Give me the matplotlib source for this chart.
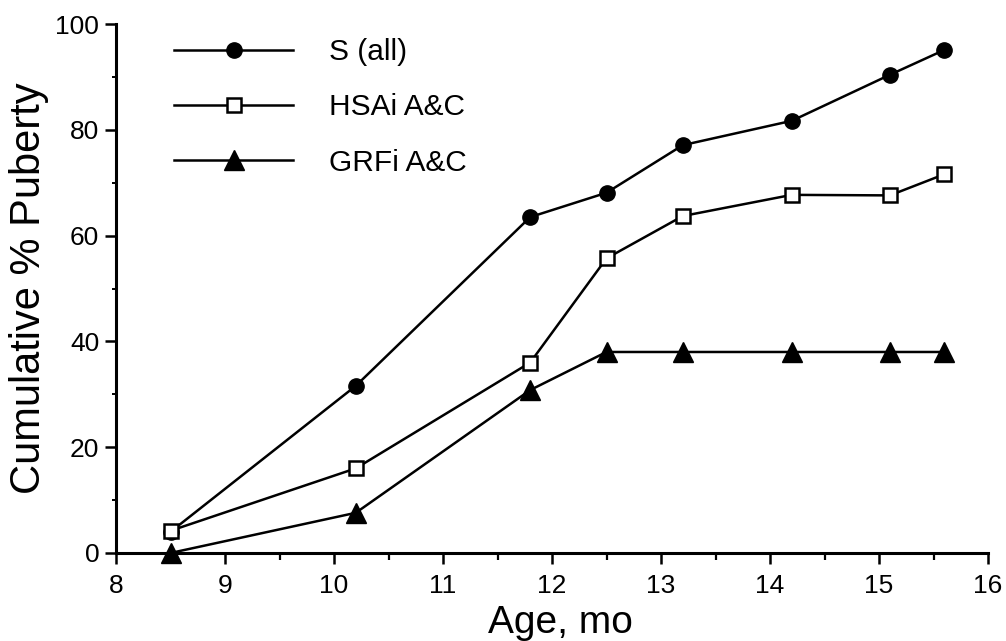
import matplotlib
matplotlib.use("Agg")
import matplotlib.pyplot as plt
from matplotlib.ticker import MultipleLocator

plt.rcParams['font.family'] = ['Liberation Sans', 'DejaVu Sans']

# ages (months) at which puberty was recorded
age = [8.5, 10.2, 11.8, 12.5, 13.2, 14.2, 15.1, 15.6]
s_all = [4.0, 31.6, 63.5, 68.1, 77.1, 81.7, 90.4, 95.1]
hsai = [4.2, 16.0, 36.0, 55.7, 63.7, 67.7, 67.6, 71.6]
grfi = [0.0, 7.6, 30.8, 38.0, 38.0, 38.0, 38.0, 38.0]

fig = plt.figure(figsize=(10.06, 6.41), dpi=100)
ax = fig.add_axes([116 / 1006, 1 - 553 / 641, 872 / 1006, 529 / 641])

ax.plot(age, s_all, '-o', color='black', lw=1.8, ms=11, label='S (all)',
        zorder=3, clip_on=False)
ax.plot(age, hsai, '-s', color='black', lw=1.8, ms=10, mfc='white', mew=1.8,
        label='HSAi A&C', zorder=4, clip_on=False)
ax.plot(age, grfi, '-^', color='black', lw=1.8, ms=14, label='GRFi A&C',
        zorder=3, clip_on=False)

ax.set_xlim(8, 16)
ax.set_ylim(0, 100)
ax.xaxis.set_major_locator(MultipleLocator(1))
ax.xaxis.set_minor_locator(MultipleLocator(0.5))
ax.yaxis.set_major_locator(MultipleLocator(20))
ax.yaxis.set_minor_locator(MultipleLocator(10))

for side in ['top', 'right']:
    ax.spines[side].set_visible(False)
for side in ['left', 'bottom']:
    ax.spines[side].set_linewidth(2.2)

ax.tick_params(axis='both', which='major', direction='out', length=8, width=1.8,
               labelsize=19, pad=4)
ax.tick_params(axis='x', which='major', pad=7)
ax.tick_params(axis='x', which='minor', direction='out', length=5, width=1.6)
ax.tick_params(axis='y', which='minor', direction='out', length=3, width=1.4)

ax.set_xlabel('Age, mo', fontsize=28)
ax.xaxis.set_label_coords(0.51, -0.098, transform=ax.transAxes)
ax.xaxis.label.set_va('top')
ax.set_ylabel('Cumulative % Puberty', fontsize=30, labelpad=5)

ax.legend(loc='upper left', bbox_to_anchor=(174 / 1006, 1 - 38 / 641),
          bbox_transform=fig.transFigure, frameon=False, fontsize=21.5,
          handlelength=4.0, handletextpad=1.2, labelspacing=0.92,
          borderpad=0, borderaxespad=0)

fig.savefig('out.png', dpi=100)
